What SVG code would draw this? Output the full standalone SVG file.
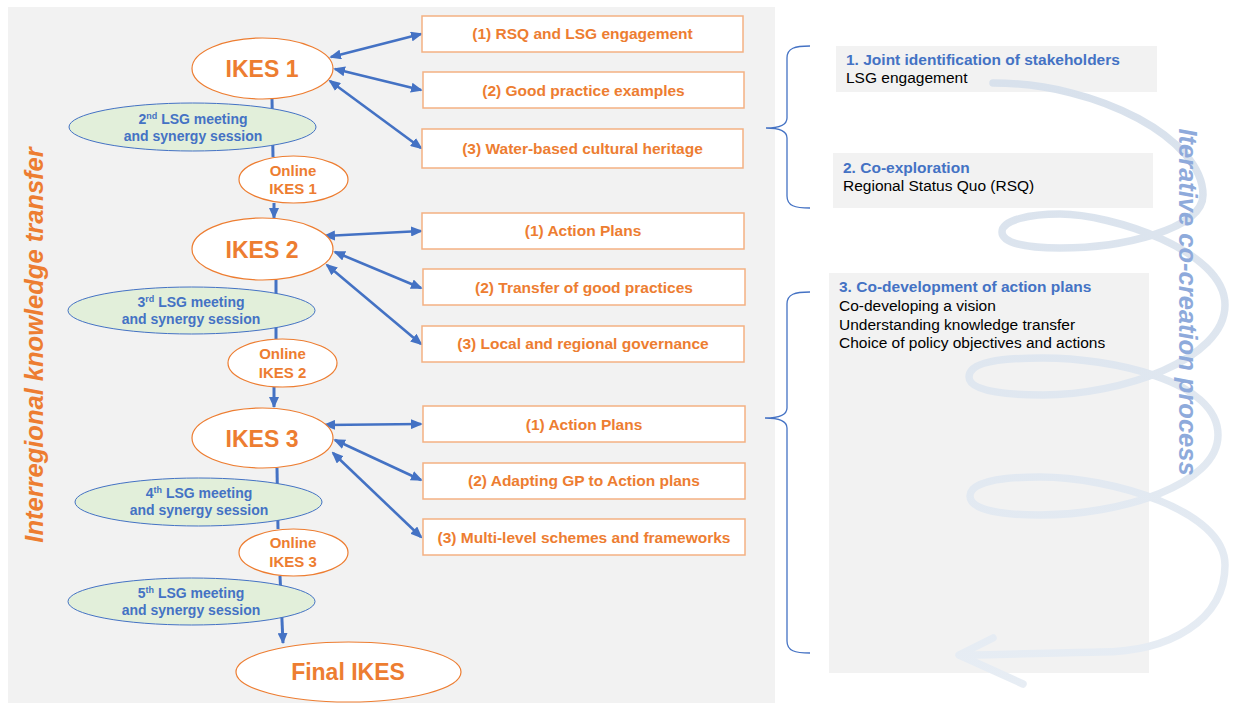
<svg xmlns="http://www.w3.org/2000/svg" width="1233" height="706" viewBox="0 0 1233 706">
  <defs>
    <style>
      text { font-family: "Liberation Sans", Arial, sans-serif; }
      .panel { fill: #f2f2f2; }
      .ikes { fill: #ffffff; stroke: #ed7d31; stroke-width: 1.2; }
      .lsg { fill: #e2efda; stroke: #4472c4; stroke-width: 1; }
      .topic { fill: #ffffff; stroke: #f4b183; stroke-width: 1.5; }
      .t-ikes { fill: #ed7d31; font-weight: bold; font-size: 23px; text-anchor: middle; }
      .t-online { fill: #ed7d31; font-weight: bold; font-size: 15px; text-anchor: middle; }
      .t-lsg { fill: #4472c4; font-weight: bold; font-size: 14px; text-anchor: middle; }
      .t-topic { fill: #ed7d31; font-weight: bold; font-size: 15.5px; text-anchor: middle; }
      .t-head { fill: #4472c4; font-weight: bold; font-size: 15.5px; }
      .t-body { fill: #000000; font-size: 15.5px; }
      .flow { stroke: #4472c4; stroke-width: 3; fill: none; }
      .link { stroke: #4472c4; stroke-width: 2.6; fill: none; marker-start: url(#ah); marker-end: url(#ah); }
      .brace { stroke: #4472c4; stroke-width: 1.3; fill: none; }
      .coil { stroke: url(#coilGrad); stroke-width: 7.5; fill: none; stroke-linecap: round; stroke-linejoin: round; }
    </style>
    <marker id="ah" markerUnits="userSpaceOnUse" markerWidth="12" markerHeight="10" refX="10" refY="5" orient="auto-start-reverse">
      <path d="M0,0 L12,5 L0,10 z" fill="#4472c4"/>
    </marker>
    <marker id="ahs" markerUnits="userSpaceOnUse" markerWidth="11" markerHeight="10" refX="10" refY="5" orient="auto">
      <path d="M0,0 L11,5 L0,10 z" fill="#4472c4"/>
    </marker>
    <linearGradient id="coilGrad" gradientUnits="userSpaceOnUse" x1="0" y1="80" x2="0" y2="690">
      <stop offset="0" stop-color="#d8e1ec"/>
      <stop offset="1" stop-color="#e7edf4"/>
    </linearGradient>
  </defs>

  <rect width="1233" height="706" fill="#ffffff"/>

  <!-- background panel of the knowledge-transfer flow -->
  <rect class="panel" x="8" y="7" width="767" height="696"/>

  <!-- phase boxes on the right -->
  <g id="phase1">
    <rect class="panel" x="836" y="46" width="321" height="46"/>
    <text class="t-head" x="846" y="65">1. Joint identification of stakeholders</text>
    <text class="t-body" x="846" y="83">LSG engagement</text>
  </g>
  <g id="phase2">
    <rect class="panel" x="833" y="153" width="320" height="55"/>
    <text class="t-head" x="843" y="173">2. Co-exploration</text>
    <text class="t-body" x="843" y="191">Regional Status Quo (RSQ)</text>
  </g>
  <g id="phase3">
    <rect class="panel" x="829" y="273" width="320" height="400"/>
    <text class="t-head" x="839" y="292">3. Co-development of action plans</text>
    <text class="t-body" x="839" y="311">Co-developing a vision</text>
    <text class="t-body" x="839" y="330">Understanding knowledge transfer</text>
    <text class="t-body" x="839" y="348">Choice of policy objectives and actions</text>
  </g>

  <!-- iterative coil with arrow tip -->
  <g id="coil">
    <path class="coil" d="M993,83
      C1100,83 1203,140 1203,195
      C1203,230 1120,248 1060,248
      C1030,248 1002,244 1002,232
      C1002,220 1030,214 1060,214
      C1110,214 1225,250 1225,305
      C1225,360 1120,395 1043,395
      C1000,395 969,390 969,377
      C969,362 1000,358 1043,358
      C1110,358 1218,380 1218,435
      C1218,485 1120,515 1040,515
      C1000,515 970,510 970,496
      C970,482 1000,477 1040,477
      C1110,477 1225,510 1225,565
      C1225,620 1170,652 1100,652
      C1040,653 990,655 960,655"/>
    <path class="coil" d="M993,638 L959,655 L1023,684"/>
  </g>

  <!-- braces grouping the phases -->
  <g id="braces">
    <path class="brace" d="M810,46 C795,46 787,48 787,58 L787,118 C787,125 780,128 766,128 C780,128 787,131 787,138 L787,196 C787,206 795,208 810,208"/>
    <path class="brace" d="M810,292 C795,292 787,294 787,304 L787,408 C787,415 780,418 765,418 C780,418 787,421 787,428 L787,641 C787,651 795,653 810,653"/>
  </g>

  <!-- vertical captions -->
  <text transform="translate(43,345) rotate(-90)" fill="#ed7d31" font-size="25.5" font-weight="bold" font-style="italic" text-anchor="middle" font-family="Liberation Sans, Arial, sans-serif">Interregional knowledge transfer</text>
  <text transform="translate(1179,302) rotate(90)" fill="#8eaadb" font-size="25.5" font-weight="bold" font-style="italic" text-anchor="middle" font-family="Liberation Sans, Arial, sans-serif">Iterative co-creation process</text>

  <!-- connectors -->
  <g id="connectors">
    <line class="flow" x1="272" y1="99" x2="273" y2="157"/>
    <line class="flow" x1="274" y1="203" x2="274" y2="218" marker-end="url(#ahs)"/>
    <line class="flow" x1="276" y1="280" x2="276" y2="339"/>
    <line class="flow" x1="274" y1="387" x2="274" y2="407" marker-end="url(#ahs)"/>
    <line class="flow" x1="277" y1="468" x2="278" y2="529"/>
    <line class="flow" x1="280" y1="576" x2="283" y2="643" marker-end="url(#ahs)"/>

    <line class="link" x1="331" y1="57" x2="421" y2="34"/>
    <line class="link" x1="335" y1="69" x2="421" y2="90"/>
    <line class="link" x1="330" y1="81" x2="421" y2="148"/>

    <line class="link" x1="325" y1="236" x2="421" y2="231"/>
    <line class="link" x1="335" y1="252" x2="421" y2="288"/>
    <line class="link" x1="327" y1="265" x2="421" y2="344"/>

    <line class="link" x1="325" y1="425" x2="421" y2="424"/>
    <line class="link" x1="335" y1="440" x2="421" y2="480"/>
    <line class="link" x1="333" y1="453" x2="421" y2="537"/>
  </g>

  <!-- main exchange events -->
  <g id="ikes1">
    <ellipse class="ikes" cx="262.5" cy="68.5" rx="70.5" ry="30.5"/>
    <text class="t-ikes" x="262" y="77">IKES 1</text>
  </g>
  <g id="ikes2">
    <ellipse class="ikes" cx="262.5" cy="249" rx="70.5" ry="31"/>
    <text class="t-ikes" x="262" y="258">IKES 2</text>
  </g>
  <g id="ikes3">
    <ellipse class="ikes" cx="262.5" cy="438" rx="70.5" ry="30"/>
    <text class="t-ikes" x="262" y="447">IKES 3</text>
  </g>
  <g id="ikes-final">
    <ellipse class="ikes" cx="348.5" cy="672" rx="112.5" ry="30"/>
    <text class="t-ikes" x="348" y="680">Final IKES</text>
  </g>

  <!-- LSG meetings -->
  <g id="lsg2">
    <ellipse class="lsg" cx="192.5" cy="127" rx="123.5" ry="24"/>
    <text class="t-lsg" x="193" y="124">2<tspan font-size="9" dy="-5">nd</tspan><tspan dy="5"> LSG meeting</tspan></text>
    <text class="t-lsg" x="193" y="141">and synergy session</text>
  </g>
  <g id="lsg3">
    <ellipse class="lsg" cx="191.5" cy="310.5" rx="123.5" ry="23.5"/>
    <text class="t-lsg" x="191" y="307">3<tspan font-size="9" dy="-5">rd</tspan><tspan dy="5"> LSG meeting</tspan></text>
    <text class="t-lsg" x="191" y="324">and synergy session</text>
  </g>
  <g id="lsg4">
    <ellipse class="lsg" cx="198.5" cy="502" rx="123.5" ry="24"/>
    <text class="t-lsg" x="199" y="498">4<tspan font-size="9" dy="-5">th</tspan><tspan dy="5"> LSG meeting</tspan></text>
    <text class="t-lsg" x="199" y="515">and synergy session</text>
  </g>
  <g id="lsg5">
    <ellipse class="lsg" cx="191.5" cy="601.5" rx="123.5" ry="23.5"/>
    <text class="t-lsg" x="191" y="598">5<tspan font-size="9" dy="-5">th</tspan><tspan dy="5"> LSG meeting</tspan></text>
    <text class="t-lsg" x="191" y="615">and synergy session</text>
  </g>

  <!-- online events -->
  <g id="online1">
    <ellipse class="ikes" cx="293.5" cy="179.5" rx="54.5" ry="23.5"/>
    <text class="t-online" x="293" y="176">Online</text>
    <text class="t-online" x="293" y="194">IKES 1</text>
  </g>
  <g id="online2">
    <ellipse class="ikes" cx="282.5" cy="363" rx="54.5" ry="24"/>
    <text class="t-online" x="282.5" y="359">Online</text>
    <text class="t-online" x="282.5" y="378">IKES 2</text>
  </g>
  <g id="online3">
    <ellipse class="ikes" cx="293.5" cy="552.5" rx="54.5" ry="23.5"/>
    <text class="t-online" x="293" y="548">Online</text>
    <text class="t-online" x="293" y="567">IKES 3</text>
  </g>

  <!-- topics per exchange -->
  <g id="topic1-1">
    <rect class="topic" x="422" y="16" width="321" height="36"/>
    <text class="t-topic" x="582.5" y="39">(1) RSQ and LSG engagement</text>
  </g>
  <g id="topic1-2">
    <rect class="topic" x="423" y="72" width="321" height="36"/>
    <text class="t-topic" x="583.5" y="96">(2) Good practice examples</text>
  </g>
  <g id="topic1-3">
    <rect class="topic" x="422" y="129" width="321" height="39"/>
    <text class="t-topic" x="582.5" y="154">(3) Water-based cultural heritage</text>
  </g>
  <g id="topic2-1">
    <rect class="topic" x="422" y="213" width="322" height="36"/>
    <text class="t-topic" x="583" y="236">(1) Action Plans</text>
  </g>
  <g id="topic2-2">
    <rect class="topic" x="423" y="269" width="322" height="36"/>
    <text class="t-topic" x="584" y="293">(2) Transfer of good practices</text>
  </g>
  <g id="topic2-3">
    <rect class="topic" x="422" y="326" width="322" height="36"/>
    <text class="t-topic" x="583" y="349">(3) Local and regional governance</text>
  </g>
  <g id="topic3-1">
    <rect class="topic" x="423" y="406" width="322" height="36"/>
    <text class="t-topic" x="584" y="430">(1) Action Plans</text>
  </g>
  <g id="topic3-2">
    <rect class="topic" x="423" y="463" width="322" height="36"/>
    <text class="t-topic" x="584" y="486">(2) Adapting GP to Action plans</text>
  </g>
  <g id="topic3-3">
    <rect class="topic" x="423" y="519" width="322" height="36"/>
    <text class="t-topic" x="584" y="543">(3) Multi-level schemes and frameworks</text>
  </g>
</svg>
